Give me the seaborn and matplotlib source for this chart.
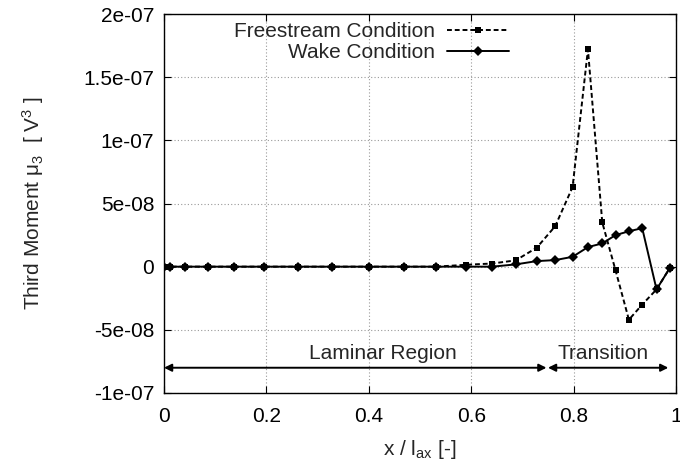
import matplotlib
matplotlib.use("Agg")
import matplotlib.pyplot as plt
import seaborn as sns
import numpy as np

x_pos = [0.0, 0.012, 0.041, 0.085, 0.137, 0.196, 0.261, 0.329, 0.400, 0.469,
         0.531, 0.590, 0.641, 0.687, 0.728, 0.764, 0.798, 0.828, 0.856, 0.882,
         0.908, 0.934, 0.962, 0.988]
freestream = [-5e-10, 0, 0, 0, 0, 0, 0, 0, 0, 0,
              0, 1.5e-9, 2.5e-9, 5e-9, 1.5e-8, 3.2e-8, 6.3e-8, 1.72e-7, 3.5e-8, -3e-9,
              -4.2e-8, -3e-8, -1.8e-8, -1e-9]
wake = [-5e-10, 0, 0, 0, 0, 0, 0, 0, 0, 0,
        0, 0, 0, 1.8e-9, 4.4e-9, 5.2e-9, 7.8e-9, 1.55e-8, 1.84e-8, 2.5e-8,
        2.8e-8, 3.05e-8, -1.8e-8, -1e-9]
series_names = ["Freestream Condition", "Wake Condition"]
y_ticks = [-1e-7, -5e-8, 0, 5e-8, 1e-7, 1.5e-7, 2e-7]
y_tick_labels = ["-1e-07", "-5e-08", "0", "5e-08", "1e-07", "1.5e-07", "2e-07"]
x_ticks = [0, 0.2, 0.4, 0.6, 0.8, 1.0]
x_tick_labels = ["0", "0.2", "0.4", "0.6", "0.8", "1"]
regions = ["Laminar Region", "Transition"]
region_bounds = [(0.0, 0.747), (0.75, 0.985)]

FS = 15

sns.set_style("ticks")
plt.rcParams['font.family'] = ['Liberation Sans', 'DejaVu Sans']
plt.rcParams['mathtext.default'] = 'regular'

fig = plt.figure(figsize=(6.8, 4.63), dpi=100)
ax = fig.add_axes([164/680, 1-393/463, (676-164)/680, (393-14)/463])

sns.lineplot(x=x_pos, y=freestream, ax=ax, color="black", linestyle=(0, (2.5, 1.5)),
             marker="s", markersize=4.1, markeredgewidth=0, linewidth=1.4,
             label=series_names[0], sort=False)
sns.lineplot(x=x_pos, y=wake, ax=ax, color="black", linestyle="-",
             marker="D", markersize=5.6, markeredgewidth=0, linewidth=1.4,
             label=series_names[1], sort=False)

ax.set_xlim(0, 1)
ax.set_ylim(-1e-7, 2e-7)
ax.set_xticks(x_ticks)
ax.set_xticklabels(x_tick_labels)
ax.set_yticks(y_ticks)
ax.set_yticklabels(y_tick_labels)
ax.tick_params(direction="in", top=True, right=True, labelsize=FS, length=5,
               width=0.8, colors="black", pad=7)
ax.tick_params(axis="x", pad=10)
ax.grid(True, color="#999999", linestyle=(0, (1, 2)), linewidth=0.8)
for s in ax.spines.values():
    s.set_color("black")
    s.set_linewidth(1.0)

ax.set_xlabel("x / l$_{ax}$ [-]", fontsize=FS, labelpad=9)
ax.set_ylabel("Third Moment \u03bc$_3$  [ V$^3$ ]", fontsize=FS, labelpad=27)

# region arrows
arrow_y = -8e-8
for name, (a, b) in zip(regions, region_bounds):
    ax.annotate("", xy=(a, arrow_y), xytext=(b, arrow_y),
                arrowprops=dict(arrowstyle="<|-|>", color="black", lw=1.4,
                                mutation_scale=11, shrinkA=0, shrinkB=0))
ax.text(0.428, -6.9e-8, regions[0], ha="center", va="center", fontsize=FS)
ax.text(0.857, -6.9e-8, regions[1], ha="center", va="center", fontsize=FS)

leg = ax.legend(loc="upper right", bbox_to_anchor=(509/680, 1-22/463),
                bbox_transform=fig.transFigure, frameon=False, markerfirst=False,
                fontsize=FS, handlelength=3.0, handletextpad=0.55,
                labelspacing=0.1, borderpad=0, borderaxespad=0)
for t in leg.get_texts():
    t.set_ha("right")

fig.savefig("out.png", dpi=100)
